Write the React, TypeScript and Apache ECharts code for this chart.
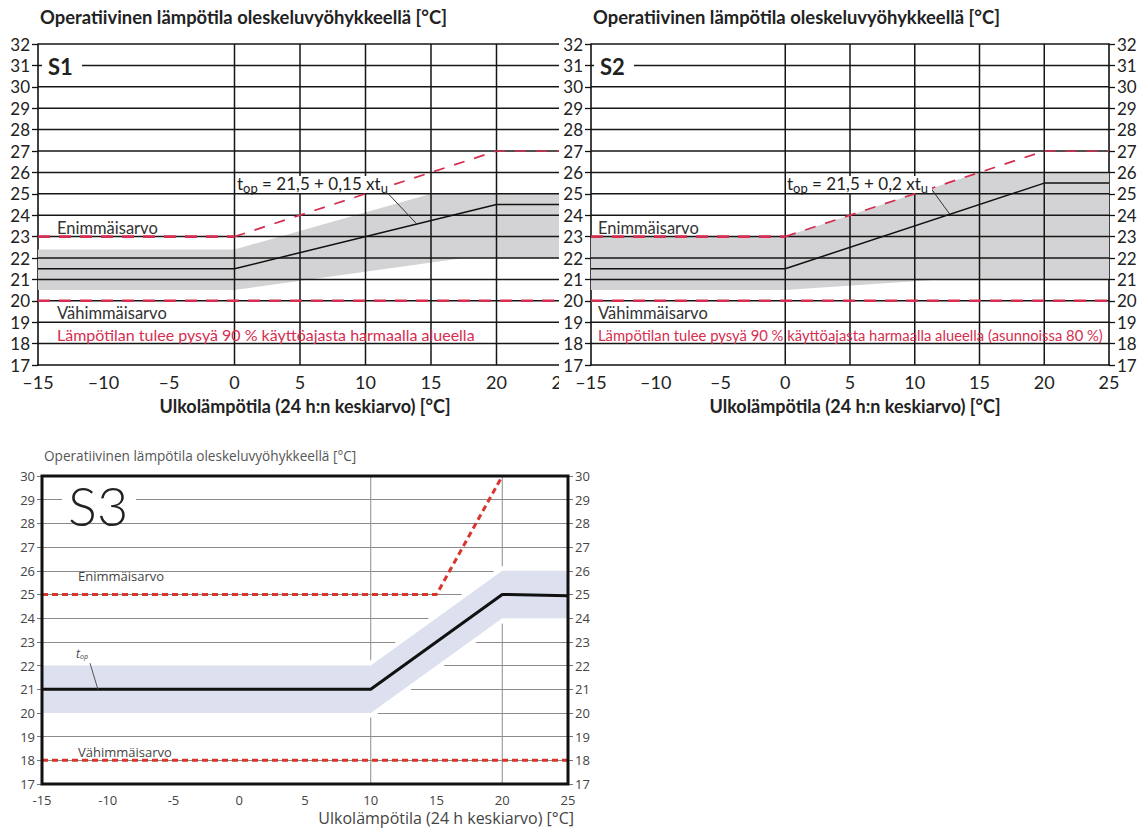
import React, { useEffect, useRef } from "react";
import * as echarts from "echarts";

// ---------- data ----------
const xTickValues = [-15, -10, -5, 0, 5, 10, 15, 20, 25];
const yGridTop = [18, 19, 20, 21, 22, 23, 24, 25, 26, 27, 28, 29, 30, 31, 32];
const verticalGridTop = [0, 5, 10, 15, 20];
const verticalGridS3 = [10, 20];

// S1
const s1MaxFlat = [[-15, 23], [0, 23]];
const s1MaxRise = [[0, 23], [20, 27], [25, 27]];
const s1Min = [[-15, 20], [25, 20]];
const s1Top = [[-15, 21.5], [0, 21.5], [20, 24.5], [25, 24.5]];
const s1BandUpper = [[-15, 22.4], [0, 22.4], [15, 25], [25, 25]];
const s1BandLower = [[-15, 20.5], [0, 20.5], [17.5, 22], [25, 22]];
const s1Leader = [[11.2, 25.35], [13.9, 23.6]];

// S2
const s2MaxFlat = [[-15, 23], [0, 23]];
const s2MaxRise = [[0, 23], [20, 27], [25, 27]];
const s2Min = [[-15, 20], [25, 20]];
const s2Top = [[-15, 21.5], [0, 21.5], [20, 25.5], [25, 25.5]];
const s2BandUpper = [[-15, 23], [0, 23], [15, 26], [25, 26]];
const s2BandLower = [[-15, 20.5], [0, 20.5], [12, 21], [25, 21]];
const s2Leader = [[11.2, 25.3], [12.7, 24.05]];

// S3
const s3Max = [[-15, 25], [15, 25], [20, 30]];
const s3Min = [[-15, 18], [25, 18]];
const s3Top = [[-15, 21], [10, 21], [20, 25], [25, 24.95]];
const s3BandUpper = [[-15, 22], [10, 22], [20, 26], [25, 26]];
const s3BandLower = [[-15, 20], [10, 20], [20, 24], [25, 24]];
const s3Leader = [[-11.35, 22.1], [-10.75, 21]];

// ---------- texts ----------
const titleText = "Operatiivinen lämpötila oleskeluvyöhykkeellä [°C]";
const xNameTop = "Ulkolämpötila (24 h:n keskiarvo) [°C]";
const xNameS3 = "Ulkolämpötila (24 h keskiarvo) [°C]";
const maxLabel = "Enimmäisarvo";
const minLabel = "Vähimmäisarvo";
const noteS1 = "Lämpötilan tulee pysyä 90 % käyttöajasta harmaalla alueella";
const noteS2 = "Lämpötilan tulee pysyä 90 % käyttöajasta harmaalla alueella (asunnoissa 80 %)";

const F = 'Lato, "Noto Sans", sans-serif';
const F3 = '"Open Sans", "Noto Sans", sans-serif';
const RED = "#d52e50";
const RED3 = "#d8352d";

// band polygon + grid lines, all placed through the axes' scales
const bandRender = (
  upper: number[][],
  lower: number[][],
  fill: string,
  halo: number,
  vlines: number[],
  hlines: number[],
  xRange: number[],
  yRange: number[],
  gStyle: any,
  gridAbove: boolean
) =>
  (params: any, api: any) => {
    const pts = [
      ...upper.map((p) => api.coord(p)),
      ...lower.slice().reverse().map((p) => api.coord(p)),
    ];
    const w = gStyle.lineWidth;
    const vRects = vlines.map((v) => {
      const a = api.coord([v, yRange[1]]);
      const b = api.coord([v, yRange[0]]);
      return {
        type: "rect",
        shape: { x: a[0] - w / 2, y: a[1], width: w, height: b[1] - a[1] },
        style: { fill: gStyle.stroke },
      };
    });
    const hRects = hlines.map((h) => {
      const a = api.coord([xRange[0], h]);
      const b = api.coord([xRange[1], h]);
      return {
        type: "rect",
        shape: { x: a[0], y: a[1] - w / 2, width: b[0] - a[0], height: w },
        style: { fill: gStyle.stroke },
      };
    });
    const lines = [...vRects, ...hRects];
    const children: any[] = [];
    if (!gridAbove) children.push(...lines);
    if (halo > 0) {
      children.push({ type: "polygon", shape: { points: pts }, style: { fill: "#fff", stroke: "#fff", lineWidth: halo } });
    }
    children.push({ type: "polygon", shape: { points: pts }, style: { fill } });
    if (gridAbove) children.push(...lines);
    return { type: "group", children };
  };

const lineSeries = (data: number[][], lineStyle: any, z = 5) => ({
  type: "line",
  data,
  symbol: "none",
  silent: true,
  z,
  lineStyle,
});

const txt = (x: number, y: number, text: string, style: any, font = F) => ({
  type: "text",
  x,
  y,
  z: 100,
  silent: true,
  style: {
    text,
    fontFamily: font,
    textAlign: "left",
    textVerticalAlign: "middle",
    verticalAlign: "middle",
    ...style,
  },
});

const rect = (x: number, y: number, w: number, h: number) => ({
  type: "rect",
  z: 99,
  silent: true,
  shape: { x, y, width: w, height: h },
  style: { fill: "#fff" },
});

function topOption(c: any) {
  const yAx = (pos: string, labels: boolean) => ({
    type: "value",
    position: pos,
    min: 17,
    max: 32,
    interval: 1,
    axisLine: { show: true, onZero: false, lineStyle: { color: "#111", width: 1.6 } },
    axisTick: { show: labels, length: 6, lineStyle: { color: "#111", width: 1.3 } },
    axisLabel: { show: labels, fontFamily: F, fontSize: 17, color: "#222", margin: 8 },
    splitLine: { show: false },
  });
  const formula = `{a|t}{b|op}{a| = 21,5 + ${c.coef} xt}{b|u}`;
  return {
    animation: false,
    grid: { left: c.left, top: 44, width: c.width, height: 323 },
    xAxis: {
      type: "value",
      min: -15,
      max: 25,
      interval: 5,
      axisLine: { show: true, onZero: false, lineStyle: { color: "#111", width: 1.6 } },
      axisTick: { show: false },
      splitLine: { show: false },
      axisLabel: {
        fontFamily: F,
        fontSize: 18,
        color: "#222",
        margin: 8,
        formatter: (v: number) => (xTickValues.includes(v) ? (v < 0 ? "\u2013" + Math.abs(v) : String(v)) : ""),
      },
      name: xNameTop,
      nameLocation: "middle",
      nameGap: 32,
      nameTextStyle: { fontFamily: F, fontSize: 18, fontWeight: "bold", color: "#222", padding: [0, 0, 0, 10] },
    },
    yAxis: [yAx("left", true), yAx("right", c.rightLabels)],
    series: [
      {
        type: "custom",
        z: 2,
        silent: true,
        clip: false,
        renderItem: bandRender(
          c.bandUpper, c.bandLower, "#d3d3d5", 0,
          verticalGridTop, yGridTop, [-15, 25], [17, 32],
          { stroke: "#161616", lineWidth: 1.5 }, true
        ),
        data: [[0, 20]],
        encode: { x: 0, y: 1 },
      },
      lineSeries(c.top, { color: "#111", width: 1.5 }),
      lineSeries(c.maxFlat, { color: RED, width: 2.6, type: [12, 9] }, 6),
      lineSeries(c.maxRise, { color: RED, width: 1.7, type: [11, 10] }, 6),
      lineSeries(c.min, { color: RED, width: 2.6, type: [12, 9] }, 6),
      lineSeries(c.leader, { color: "#333", width: 1 }),
    ],
    graphic: [
      txt(c.titleX, 17, titleText, { fontSize: 18.4, fontWeight: "bold", fill: "#222" }),
      rect(c.tagX - 6, 56, 40, 20),
      txt(c.tagX, 66, c.tag, { fontSize: 22, fontWeight: "bold", fill: "#222" }),
      txt(c.labelX, 228, maxLabel, { fontSize: 16.5, fill: "#333" }),
      txt(c.labelX, 313, minLabel, { fontSize: 16.5, fill: "#333" }),
      txt(c.labelX, 334.5, c.note, { fontSize: c.noteSize, fill: RED }),
      rect(c.formulaX - 1, 176, c.formulaW, 17),
      {
        type: "text",
        x: c.formulaX,
        y: 172,
        z: 100,
        silent: true,
        style: {
          text: formula,
          fontFamily: F,
          textAlign: "left",
          textVerticalAlign: "top",
          verticalAlign: "top",
          rich: {
            a: { fontFamily: F, fontSize: 17, fill: "#222", color: "#222", lineHeight: 22, verticalAlign: "middle" },
            b: { fontFamily: F, fontSize: 13, fill: "#222", color: "#222", lineHeight: 13, verticalAlign: "bottom" },
          },
        },
      },
    ],
  };
}

const s1Option = topOption({
  left: 38,
  width: 524,
  coef: "0,15",
  tag: "S1",
  tagX: 48,
  titleX: 40,
  labelX: 57,
  note: noteS1,
  noteSize: 16,
  formulaX: 237,
  formulaW: 152,
  rightLabels: false,
  maxFlat: s1MaxFlat,
  maxRise: s1MaxRise,
  min: s1Min,
  top: s1Top,
  bandUpper: s1BandUpper,
  bandLower: s1BandLower,
  leader: s1Leader,
});

const s2Option = topOption({
  left: 33,
  width: 518,
  coef: "0,2",
  tag: "S2",
  tagX: 42,
  titleX: 35,
  labelX: 40,
  note: noteS2,
  noteSize: 14.8,
  formulaX: 229,
  formulaW: 146,
  rightLabels: true,
  maxFlat: s2MaxFlat,
  maxRise: s2MaxRise,
  min: s2Min,
  top: s2Top,
  bandUpper: s2BandUpper,
  bandLower: s2BandLower,
  leader: s2Leader,
});

function s3OptionBuild() {
  const yAx = (pos: string, split: boolean) => ({
    type: "value",
    position: pos,
    min: 17,
    max: 30,
    interval: 1,
    axisLine: { show: false, onZero: false },
    axisTick: { show: true, length: 5, lineStyle: { color: "#777", width: 1 } },
    axisLabel: { fontFamily: F3, fontSize: 13, color: "#444", margin: 7 },
    splitLine: { show: split, lineStyle: { color: "#8a8a8a", width: 1 } },
  });
  return {
    animation: false,
    grid: { left: 42, top: 46, width: 526, height: 308 },
    xAxis: {
      type: "value",
      min: -15,
      max: 25,
      interval: 5,
      axisLine: { show: false, onZero: false },
      axisTick: { show: false },
      splitLine: { show: false },
      axisLabel: { fontFamily: F3, fontSize: 13, color: "#444", margin: 9 },
    },
    yAxis: [yAx("left", true), yAx("right", false)],
    series: [
      {
        type: "custom",
        z: 2,
        silent: true,
        clip: true,
        renderItem: bandRender(
          s3BandUpper, s3BandLower, "#dde0ee", 9,
          verticalGridS3, [], [-15, 25], [17, 30],
          { stroke: "#8a8a8a", lineWidth: 1 }, false
        ),
        data: [[0, 20]],
        encode: { x: 0, y: 1 },
      },
      lineSeries(s3Top, { color: "#111", width: 3 }),
      lineSeries(s3Max, { color: RED3, width: 3, type: [6, 4] }, 6),
      lineSeries(s3Min, { color: RED3, width: 3, type: [6, 4] }, 6),
      lineSeries(s3Leader, { color: "#555", width: 1 }),
    ],
    graphic: [
      txt(44, 25, titleText, { fontSize: 13.6, fill: "#555" }, F3),
      rect(62, 57, 74, 31),
      txt(68, 75, "S3", { fontSize: 54, fill: "#222", fontWeight: 300 }),
      txt(78, 146, maxLabel, { fontSize: 13, fill: "#444" }, F3),
      txt(78, 322, minLabel, { fontSize: 13, fill: "#444" }, F3),
      {
        type: "text",
        x: 76,
        y: 216,
        z: 100,
        silent: true,
        style: {
          text: "{a|t}{b|op}",
          fontFamily: F3,
          textAlign: "left",
          textVerticalAlign: "top",
          verticalAlign: "top",
          rich: {
            a: { fontFamily: F3, fontSize: 12, fontStyle: "italic", fill: "#444", lineHeight: 14, verticalAlign: "middle" },
            b: { fontFamily: F3, fontSize: 7, fontStyle: "italic", fill: "#444", lineHeight: 7, verticalAlign: "bottom" },
          },
        },
      },
      txt(574, 388, xNameS3, { fontSize: 16, fill: "#444", textAlign: "right" }, F3),
      {
        type: "rect",
        z: 101,
        silent: true,
        shape: { x: 42, y: 46, width: 526, height: 308 },
        style: { fill: "none", stroke: "#111", lineWidth: 3 },
      },
    ],
  };
}
const s3Option = s3OptionBuild();

function EChart({ option, style }: { option: any; style: React.CSSProperties }) {
  const ref = useRef<HTMLDivElement>(null);
  useEffect(() => {
    const chart = echarts.init(ref.current as HTMLDivElement, null, { renderer: "svg" });
    chart.setOption(option);
    return () => chart.dispose();
  }, [option]);
  return <div ref={ref} style={style} />;
}

export default function App() {
  return (
    <div style={{ position: "fixed", left: 0, top: 0, width: 1141, height: 832, background: "#fff", overflow: "hidden" }}>
      <div style={{ position: "absolute", left: 0, top: 0, width: 559, height: 420, overflow: "hidden" }}>
        <EChart option={s1Option} style={{ width: 600, height: 420 }} />
      </div>
      <EChart option={s2Option} style={{ position: "absolute", left: 558, top: 0, width: 583, height: 420 }} />
      <EChart option={s3Option} style={{ position: "absolute", left: 0, top: 430, width: 600, height: 402 }} />
    </div>
  );
}
